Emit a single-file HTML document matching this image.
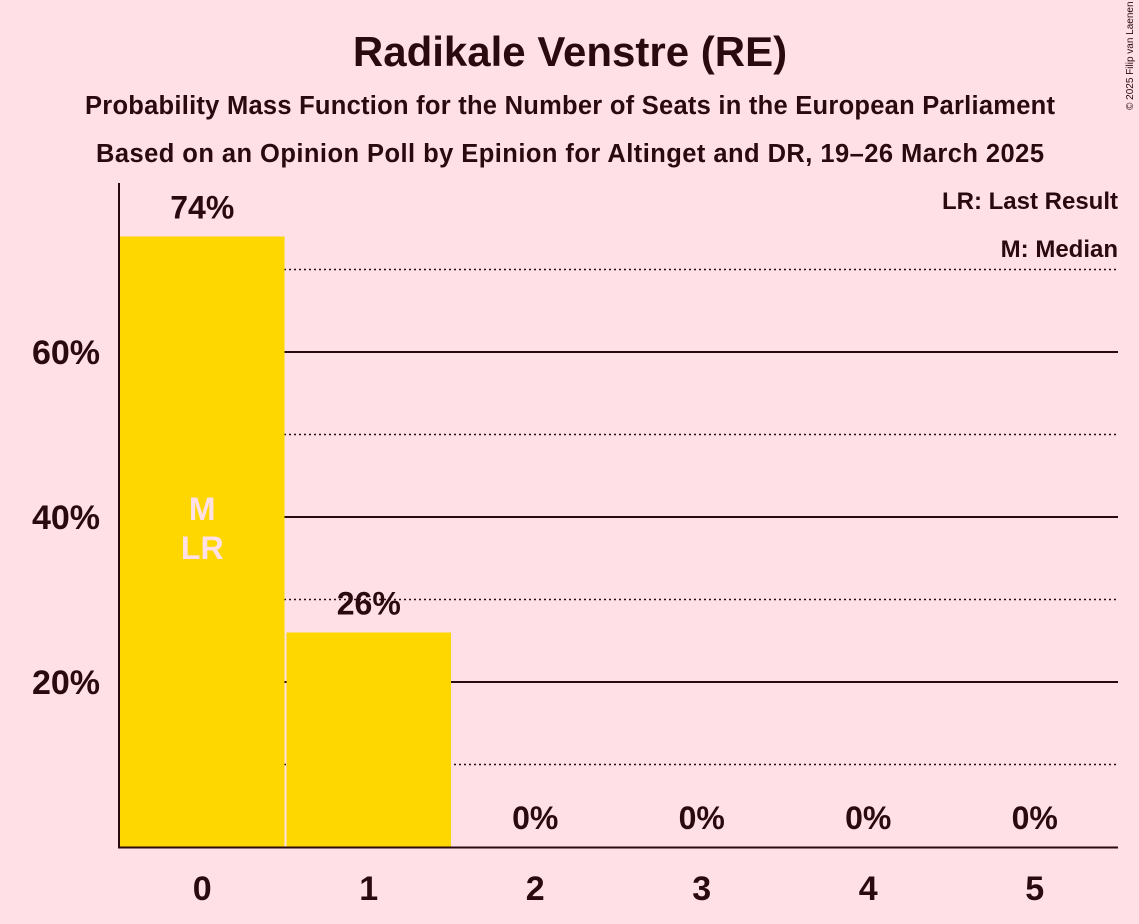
<!DOCTYPE html>
<html><head><meta charset="utf-8">
<style>
html,body{margin:0;padding:0;background:#ffe0e6;}
svg{display:block;font-family:"Liberation Sans",sans-serif;}
</style></head>
<body>
<svg id="chart" width="1139" height="924" viewBox="0 0 1139 924">
<rect width="1139" height="924" fill="#ffe0e6"/>
<text x="570" y="66" text-anchor="middle" font-size="42" font-weight="bold" fill="#2a0a0f">Radikale Venstre (RE)</text>
<text x="570" y="114" text-anchor="middle" font-size="25.5" font-weight="bold" fill="#2a0a0f" textLength="970">Probability Mass Function for the Number of Seats in the European Parliament</text>
<text x="570" y="162" text-anchor="middle" font-size="25.5" font-weight="bold" fill="#2a0a0f" textLength="948">Based on an Opinion Poll by Epinion for Altinget and DR, 19–26 March 2025</text>
<text x="1133" y="110" font-size="10" fill="#2a0a0f" transform="rotate(-90 1133 110)">© 2025 Filip van Laenen</text>
<text x="1118" y="209" text-anchor="end" font-size="24" font-weight="bold" fill="#2a0a0f">LR: Last Result</text>
<text x="1118" y="257" text-anchor="end" font-size="24" font-weight="bold" fill="#2a0a0f">M: Median</text>
<g id="grid"></g>
<g id="bars"></g>
<g id="labels"></g>
<line x1="119" y1="183" x2="119" y2="848" stroke="#2a0a0f" stroke-width="2"/>
<line x1="118" y1="847.5" x2="1118" y2="847.5" stroke="#2a0a0f" stroke-width="2"/>
</svg>
<script>
const seats = [0, 1, 2, 3, 4, 5];
const probs = [74, 26, 0, 0, 0, 0];
const valueLabels = ["74%", "26%", "0%", "0%", "0%", "0%"];
const solidTicks = [20, 40, 60];
const dottedTicks = [10, 30, 50, 70];
const medianSeat = 0;
const lastResultSeat = 0;

const NS = "http://www.w3.org/2000/svg";
const x0 = 119, step = 166.5, yBase = 847, pxPer = 8.25;
const xc = i => x0 + step * (i + 0.5);
const y = v => yBase - v * pxPer;
function mk(tag, attrs, parent, text) {
  const e = document.createElementNS(NS, tag);
  for (const k in attrs) e.setAttribute(k, attrs[k]);
  if (text !== undefined) e.textContent = text;
  document.getElementById(parent).appendChild(e);
  return e;
}
dottedTicks.forEach(t => {
  const l = mk("line", {x1: 119, x2: 1118, y1: y(t), y2: y(t), stroke: "#2a0a0f", "stroke-width": 1.5, "stroke-dasharray": "2,3"}, "grid");
  
  
});
solidTicks.forEach(t => {
  const l = mk("line", {x1: 119, x2: 1118, y1: y(t), y2: y(t), stroke: "#2a0a0f", "stroke-width": 2}, "grid");
  
  
  const tx = mk("text", {x: 100, y: y(t) + 12, "text-anchor": "end", "font-size": 34, "font-weight": "bold", fill: "#2a0a0f"}, "labels", t + "%");
  
  
});
seats.forEach((s, i) => {
  const v = probs[i];
  if (v > 0) {
    const r = mk("rect", {x: xc(i) - step / 2 + 1, y: y(v), width: step - 2, height: yBase - y(v), fill: "#ffd700"}, "bars");
    
    
  }
  const ly = v > 0 ? y(v) - 18 : yBase - 18;
  const t = mk("text", {x: xc(i), y: ly, "text-anchor": "middle", "font-size": 32, "font-weight": "bold", fill: "#2a0a0f"}, "labels", valueLabels[i]);
  
  
  const xt = mk("text", {x: xc(i), y: 900, "text-anchor": "middle", "font-size": 34, "font-weight": "bold", fill: "#2a0a0f"}, "labels", String(s));
  
  
});
const m = mk("text", {x: xc(medianSeat), y: 520, "text-anchor": "middle", "font-size": 32, "font-weight": "bold", fill: "#ffe0e6"}, "labels", "M");


const lr = mk("text", {x: xc(lastResultSeat), y: 559, "text-anchor": "middle", "font-size": 32, "font-weight": "bold", fill: "#ffe0e6"}, "labels", "LR");


</script>
</body></html>
